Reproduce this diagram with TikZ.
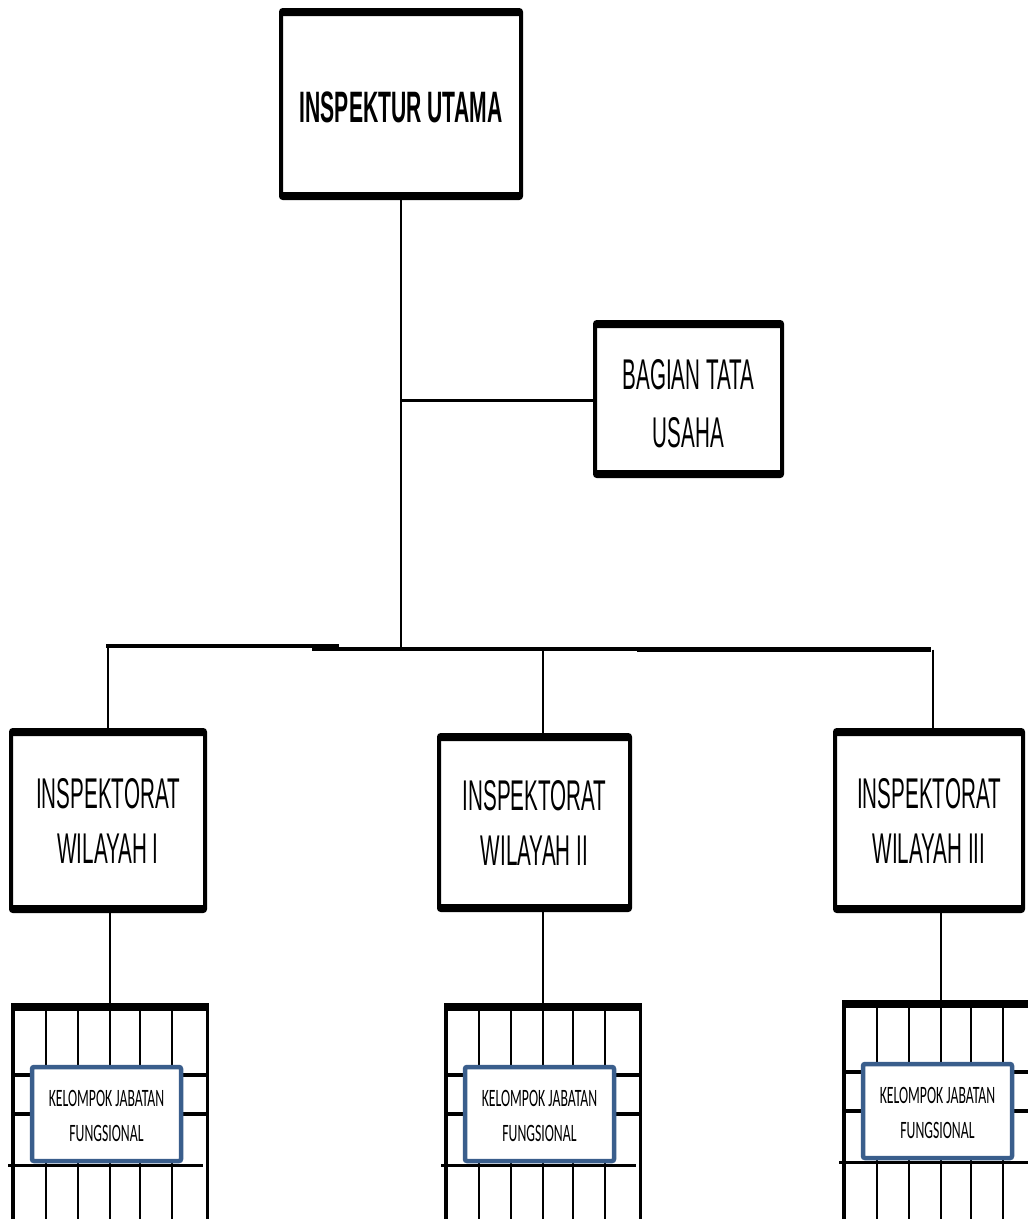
\documentclass[tikz,border=0pt]{standalone}
\usepackage{fontspec}
\setmainfont{Liberation Sans}
\newfontfamily\orgfont{Liberation Sans}[FakeStretch=0.48]
\newfontfamily\kelfont{Carlito}[FakeStretch=0.55]
\definecolor{kelblue}{RGB}{58,94,140}
% lower a line of text without changing its reported size
\newcommand\dropby[2]{\raisebox{-#1}[\height][\depth]{#2}}
\begin{document}
\begin{tikzpicture}[x=1pt,y=-1pt,
  conn/.style={line width=2pt},
  barline/.style={line width=4pt},
  unitbox/.style={draw, line width=4pt, rounded corners=2pt, inner sep=0pt, align=center,
    font=\orgfont\fontsize{43}{55}\selectfont,
    path picture={
      \fill ([yshift=2pt]path picture bounding box.north west) rectangle ([yshift=-6pt]path picture bounding box.north east);
      \fill ([yshift=-2pt]path picture bounding box.south west) rectangle ([yshift=6pt]path picture bounding box.south east);}},
  kelbox/.style={draw=kelblue, line width=4.5pt, fill=white, rounded corners=2pt, inner sep=0pt,
    minimum width=149pt, minimum height=94pt, align=center,
    font=\kelfont\fontsize{25}{35}\selectfont},
  kelgrid/.pic={
    \draw[line width=8.5pt] (-2,0) -- (196,0);
    \draw[line width=4pt] (0,-2) -- (0,240);
    \draw[line width=3pt] (194,-2) -- (194,240);
    \foreach \gx in {33,65,97,127,159} \draw[line width=2pt] (\gx,0) -- (\gx,240);
    \draw[line width=4pt] (-2,68) -- (196,68);
    \draw[line width=4pt] (0,107) -- (194,107);
    \draw[line width=3pt] (-5,158) -- (190,158);
    \node[kelbox] (-box) at (93.5,107) {\dropby{1.5pt}{KELOMPOK JABATAN}\\\dropby{1.5pt}{FUNGSIONAL}};
    \coordinate (-top) at (97,0);
  }]
\useasboundingbox (0,0) rectangle (1028,1219);
\fill[white] (0,0) rectangle (1028,1219);
\clip (0,0) rectangle (1028,1219);

% top-level and staff units
\node[unitbox, minimum width=240pt, minimum height=188pt,
      font=\orgfont\bfseries\fontsize{44}{50}\selectfont] (utama) at (401,104) {\dropby{3pt}{INSPEKTUR UTAMA}};
\node[unitbox, minimum width=187pt, minimum height=154pt,
      font=\orgfont\fontsize{43}{58}\selectfont] (bagian) at (688.5,399) {\dropby{5pt}{BAGIAN TATA}\\\dropby{5pt}{USAHA}};

% regional inspectorates
\node[unitbox, minimum width=194pt, minimum height=181pt] (wil1) at (108,820.5) {INSPEKTORAT\\WILAYAH I};
\node[unitbox, minimum width=191pt, minimum height=175pt] (wil2) at (534.5,822.5) {INSPEKTORAT\\WILAYAH II};
\node[unitbox, minimum width=188pt, minimum height=181pt] (wil3) at (929,820.5) {INSPEKTORAT\\WILAYAH III};

% functional groups
\pic (g1) at (13,1007) {kelgrid};
\pic (g2) at (446,1007) {kelgrid};
\pic (g3) at (844,1004) {kelgrid};

% distribution bar
\coordinate (h1a) at (106,646.3);
\coordinate (h1b) at (339,646.3);
\coordinate (h2a) at (312,648.5);
\coordinate (h2b) at (665,648.5);
\coordinate (h3a) at (637,649.5);
\coordinate (h3b) at (931,649.5);
\draw[barline] (h1a) -- (h1b);
\draw[barline] (h2a) -- (h2b);
\draw[barline, line width=4.5pt] (h3a) -- (h3b);

% connectors
\coordinate (tap) at (401,400);
\draw[conn, line width=2.5pt] (utama.south) -- (utama.south |- h2a);
\draw[conn, line width=3pt] (tap) -- (tap -| bagian.west);
\coordinate (j1) at (108,646.3);
\coordinate (j2) at (543,648.5);
\coordinate (j3) at (933,649.5);
\draw[conn] (j1) -- (j1 |- wil1.north);
\draw[conn] (j2) -- (j2 |- wil2.north);
\draw[conn] (j3) -- (j3 |- wil3.north);
\draw[conn] (wil1.south -| g1-top) -- (g1-top);
\draw[conn] (wil2.south -| g2-top) -- (g2-top);
\draw[conn] (wil3.south -| g3-top) -- (g3-top);
\end{tikzpicture}
\end{document}
